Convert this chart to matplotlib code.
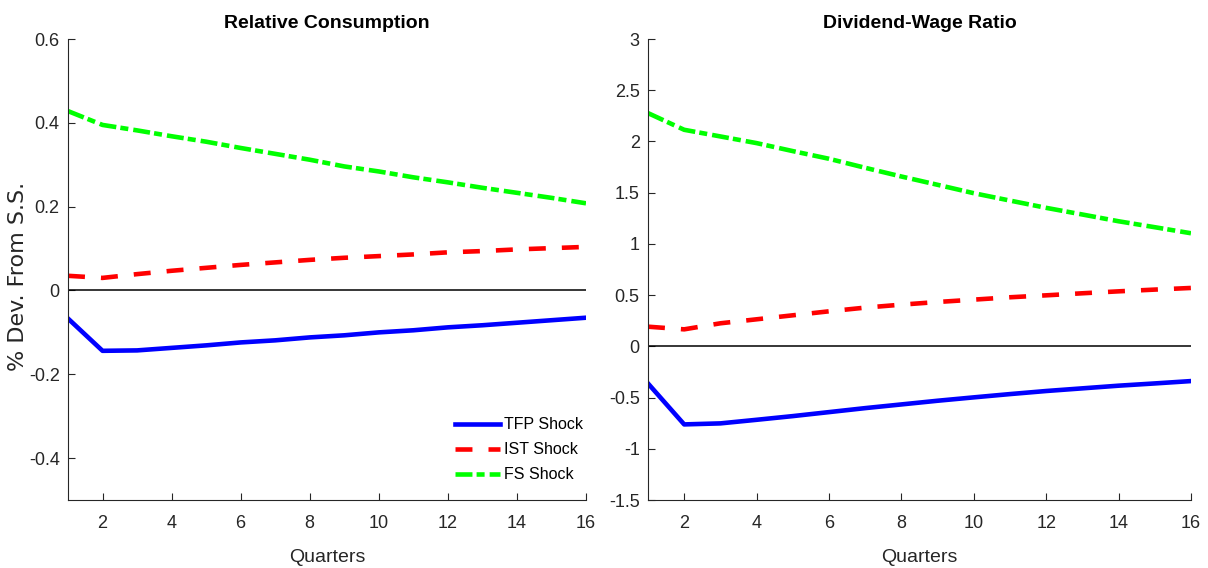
import matplotlib.pyplot as plt

quarters = list(range(1, 17))

# Relative Consumption (% dev. from S.S.)
rc_tfp = [-0.067, -0.144, -0.143, -0.137, -0.131, -0.124, -0.119, -0.112,
          -0.107, -0.100, -0.095, -0.088, -0.083, -0.077, -0.071, -0.065]
rc_ist = [0.035, 0.030, 0.039, 0.047, 0.054, 0.061, 0.067, 0.073,
          0.078, 0.082, 0.086, 0.091, 0.094, 0.098, 0.101, 0.104]
rc_fs = [0.428, 0.395, 0.382, 0.368, 0.355, 0.340, 0.326, 0.312,
         0.296, 0.284, 0.270, 0.258, 0.245, 0.233, 0.221, 0.208]

# Dividend-Wage Ratio (% dev. from S.S.)
dw_tfp = [-0.362, -0.762, -0.752, -0.717, -0.681, -0.642, -0.603, -0.567,
          -0.531, -0.498, -0.466, -0.436, -0.410, -0.384, -0.362, -0.339]
dw_ist = [0.192, 0.166, 0.225, 0.264, 0.303, 0.342, 0.378, 0.407,
          0.433, 0.456, 0.479, 0.498, 0.518, 0.537, 0.554, 0.570]
dw_fs = [2.277, 2.114, 2.049, 1.984, 1.906, 1.831, 1.743, 1.658,
         1.577, 1.495, 1.423, 1.352, 1.287, 1.221, 1.163, 1.104]

series_names = ["TFP Shock", "IST Shock", "FS Shock"]

plt.rcParams['font.family'] = ['Liberation Sans', 'DejaVu Sans']

fig = plt.figure(figsize=(12.08, 5.68), dpi=100)
ax1 = fig.add_axes([0.0563, 0.1197, 0.4288, 0.8116])
ax2 = fig.add_axes([0.5364, 0.1197, 0.4495, 0.8116])

LW = 3.3


def draw(ax, tfp, ist, fs, title, ylim, yticks, ylabels):
    ax.plot(quarters, [0] * len(quarters), color='black', lw=1.1)
    ax.plot(quarters, tfp, color='#0000ff', lw=LW, label=series_names[0])
    ax.plot(quarters, ist, color='#ff0000', lw=LW, dashes=(3.7, 3.5),
            label=series_names[1])
    ax.plot(quarters, fs, color='#00ff00', lw=LW, dashes=(3.7, 0.9, 1.75, 1.1),
            label=series_names[2])
    ax.set_xlim(1, 16)
    ax.set_ylim(*ylim)
    ax.set_xticks(range(2, 17, 2))
    ax.set_yticks(yticks)
    ax.set_yticklabels(ylabels)
    ax.spines['top'].set_visible(False)
    ax.spines['right'].set_visible(False)
    for s in ('left', 'bottom'):
        ax.spines[s].set_color('#262626')
        ax.spines[s].set_linewidth(0.8)
    ax.tick_params(direction='in', length=5, labelsize=13, colors='#262626')
    ax.tick_params(axis='x', pad=11)
    ax.tick_params(axis='y', pad=6)
    ax.set_title(title, fontsize=14, fontweight='bold', pad=8)
    ax.set_xlabel("Quarters", fontsize=14, color='#262626', labelpad=12)


draw(ax1, rc_tfp, rc_ist, rc_fs, "Relative Consumption", (-0.5, 0.6),
     [-0.4, -0.2, 0, 0.2, 0.4, 0.6], ["-0.4", "-0.2", "0", "0.2", "0.4", "0.6"])
draw(ax2, dw_tfp, dw_ist, dw_fs, "Dividend-Wage Ratio", (-1.5, 3),
     [-1.5, -1, -0.5, 0, 0.5, 1, 1.5, 2, 2.5, 3],
     ["-1.5", "-1", "-0.5", "0", "0.5", "1", "1.5", "2", "2.5", "3"])

ax1.set_ylabel("% Dev. From S.S.", fontsize=16, color='#262626',
               family='DejaVu Sans')
ax1.yaxis.set_label_coords(-0.077, 0.486)
ax1.legend(loc='upper left', bbox_to_anchor=(0.747, 0.179), frameon=False,
           fontsize=11.5, handlelength=2.8, handletextpad=0.25,
           labelspacing=0.62, borderaxespad=0, borderpad=0)

fig.savefig("out.png", dpi=100)
